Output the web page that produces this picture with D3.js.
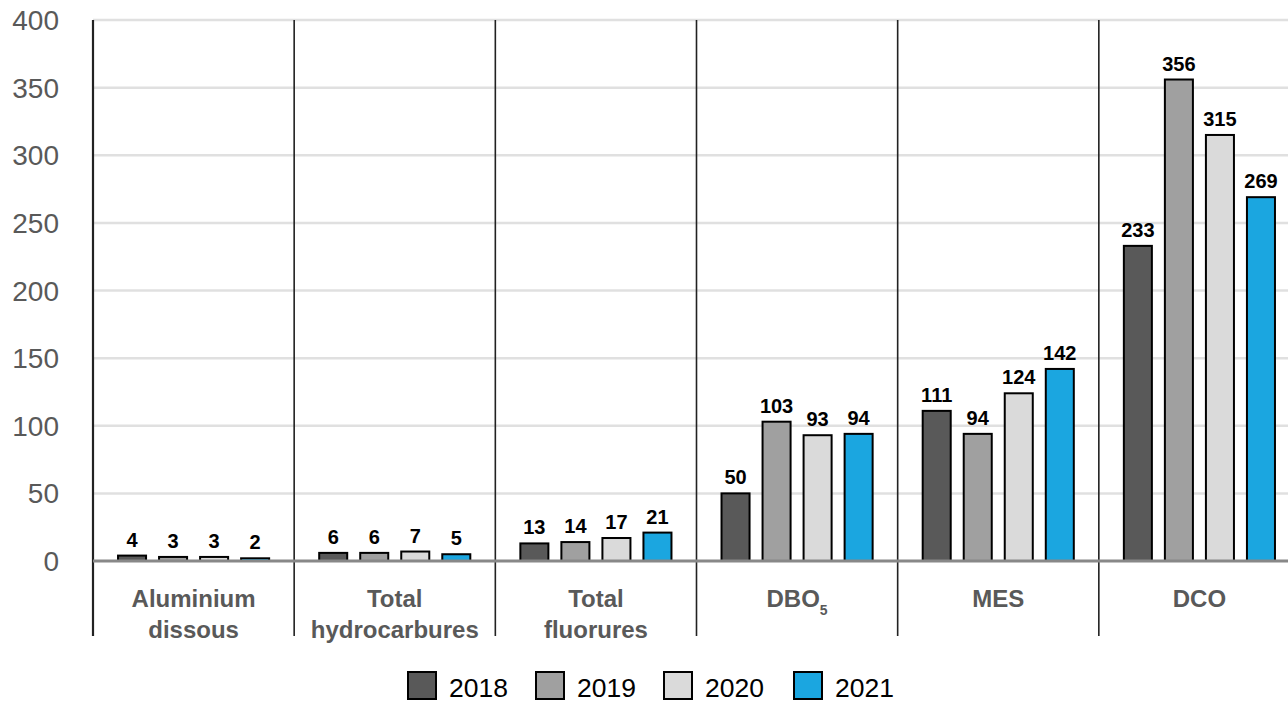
<!DOCTYPE html>
<html><head><meta charset="utf-8">
<script src="https://cdn.jsdelivr.net/npm/d3@7"></script>
<style>html,body{margin:0;padding:0;background:#fff;overflow:hidden}</style>
</head><body><svg id="c" width="1288" height="702"></svg>
<script>
const categories = [["Aluminium","dissous"],["Total","hydrocarbures"],["Total","fluorures"],["DBO","5"],["MES"],["DCO"]];
const categoryKeys = ["Aluminium dissous","Total hydrocarbures","Total fluorures","DBO5","MES","DCO"];
const years = ["2018","2019","2020","2021"];
const v2018 = [4,6,13,50,111,233];
const v2019 = [3,6,14,103,94,356];
const v2020 = [3,7,17,93,124,315];
const v2021 = [2,5,21,94,142,269];
const yTicks = [0,50,100,150,200,250,300,350,400];
const colors = ["#595959","#a0a0a0","#dadada","#1ba6e0"];
const series = [v2018,v2019,v2020,v2021];

const svg = d3.select("#c");
const font = "Liberation Sans, Arial, sans-serif";
const y = d3.scaleLinear().domain([0,400]).range([561,20]);
const x0 = d3.scaleBand().domain(categoryKeys).range([93,1300]);
const x1 = d3.scaleBand().domain(years).range([0,x0.bandwidth()]).paddingInner(0.317).paddingOuter(0.61);

// gridlines
svg.append("g").selectAll("line").data(yTicks.filter(t=>t>0)).join("line")
  .attr("x1",93).attr("x2",1288).attr("y1",d=>y(d)).attr("y2",d=>y(d))
  .attr("stroke","#e0e0e0").attr("stroke-width",2.5);

// y tick labels
svg.append("g").selectAll("text").data(yTicks).join("text")
  .attr("x",59).attr("y",d=>y(d)+10).attr("text-anchor","end")
  .attr("font-family",font).attr("font-size",28).attr("fill","#595959").text(d=>d);

// separators
const seps = categoryKeys.map(k=>x0(k));
svg.append("g").selectAll("line").data(seps).join("line")
  .attr("x1",d=>d).attr("x2",d=>d).attr("y1",20).attr("y2",636)
  .attr("stroke","#222").attr("stroke-width",(d,i)=>i===0?2.2:1.6);

// bars
const groups = svg.append("g").selectAll("g").data(categoryKeys).join("g")
  .attr("transform",d=>`translate(${x0(d)},0)`);
groups.each(function(k,ci){
  const g = d3.select(this);
  years.forEach((yr,si)=>{
    const v = series[si][ci];
    g.append("rect").attr("x",x1(yr)).attr("width",x1.bandwidth())
      .attr("y",y(v)).attr("height",y(0)-y(v))
      .attr("fill",colors[si]).attr("stroke","#000").attr("stroke-width",2);
    g.append("text").attr("x",x1(yr)+x1.bandwidth()/2).attr("y",y(v)-9)
      .attr("text-anchor","middle").attr("font-family",font).attr("font-weight","bold")
      .attr("font-size",20).attr("fill","#000").text(v);
  });
});

// zero line
svg.append("line").attr("x1",93).attr("x2",1288).attr("y1",y(0)).attr("y2",y(0))
  .attr("stroke","#888").attr("stroke-width",3);

// category labels
categoryKeys.forEach((k,ci)=>{
  const cx = x0(k)+x0.bandwidth()/2;
  const lab = categories[ci];
  if (k==="DBO5"){
    const t = svg.append("text").attr("x",cx).attr("y",607).attr("text-anchor","middle")
      .attr("font-family",font).attr("font-weight","bold").attr("font-size",24).attr("fill","#595959");
    t.append("tspan").text(lab[0]);
    t.append("tspan").attr("font-size",14).attr("dy",8).text(lab[1]);
  } else {
    lab.forEach((line,li)=>{
      svg.append("text").attr("x",cx).attr("y",607+li*31).attr("text-anchor","middle")
        .attr("font-family",font).attr("font-weight","bold").attr("font-size",24)
        .attr("fill","#595959").text(line);
    });
  }
});

// legend
const legX = [408,536,664,794];
const leg = svg.append("g").selectAll("g").data(years).join("g")
  .attr("transform",(d,i)=>`translate(${legX[i]},672)`);
leg.append("rect").attr("width",28).attr("height",27)
  .attr("fill",(d,i)=>colors[i]).attr("stroke","#000").attr("stroke-width",2);
leg.append("text").attr("x",41).attr("y",25).attr("font-family",font)
  .attr("font-size",26.5).attr("fill","#000").text(d=>d);
</script></body></html>
